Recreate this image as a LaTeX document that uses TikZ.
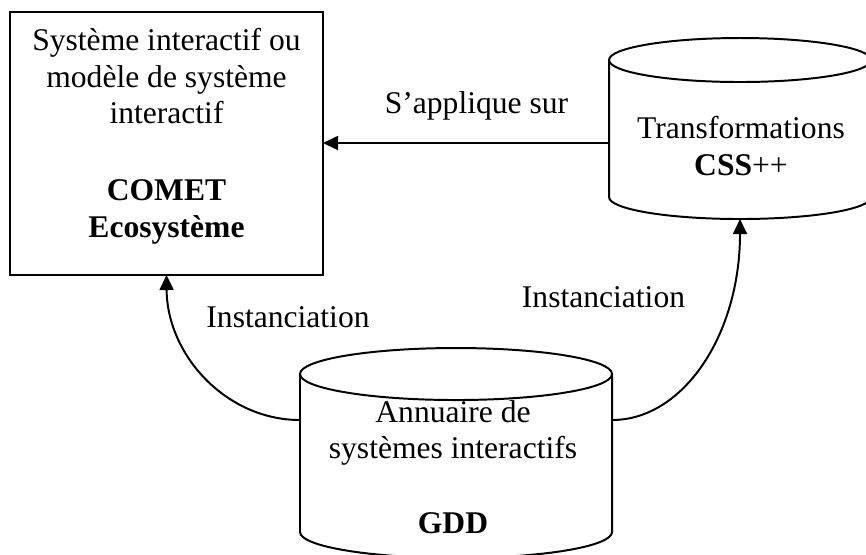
\documentclass[tikz,border=0pt]{standalone}
\usepackage{fontspec}
\setmainfont{Liberation Serif}
\usetikzlibrary{arrows.meta}
\begin{document}
\begin{tikzpicture}[x=0.38pt,y=0.38pt,
  line width=0.75pt,
  txt/.style={anchor=base,inner sep=0pt,font=\fontsize{12}{13.9}\selectfont},
  boxnode/.style={draw,minimum width=118.94pt,minimum height=99.94pt,inner sep=0pt,outer sep=0pt},
  arr/.style={-{Triangle[length=5.7pt,width=5.3pt]}}]
\useasboundingbox (0,0) rectangle (866,-554);
% box
\node[boxnode] (sys) at (166.5,-143.5) {};
\node[txt] (t1) at (166.5,-50) {Système interactif ou};
\node[txt] (t2) at (166.5,-87) {modèle de système};
\node[txt] (t3) at (166.5,-123) {interactif};
\node[txt] (t4) at (166.5,-200) {\textbf{COMET}};
\node[txt] (t5) at (166.5,-237) {\textbf{Ecosystème}};
% right cylinder (Transformations)
\draw (609,-60) -- (609,-197) arc[start angle=180,end angle=360,x radius=131,y radius=22] -- (871,-60);
\draw (740,-60) ellipse [x radius=131,y radius=22];
\coordinate (cssL) at (609,-143);
\coordinate (cssB) at (740,-219);
\node[txt] (t6) at (741,-138) {Transformations};
\node[txt] (t7) at (741,-175) {\textbf{CSS}++};
% bottom cylinder (GDD)
\draw (300,-374) -- (300,-532) arc[start angle=180,end angle=360,x radius=156,y radius=26] -- (612,-374);
\draw (456,-374) ellipse [x radius=156,y radius=26];
\coordinate (gddL) at (300,-420);
\coordinate (gddR) at (612,-420);
\node[txt] (t8) at (453,-422) {Annuaire de};
\node[txt] (t9) at (453,-458) {systèmes interactifs};
\node[txt] (t10) at (453,-533) {\textbf{GDD}};
% connectors
\draw[arr] (cssL) -- (cssL -| sys.east);
\node[txt] (lab1) at (476.5,-113) {S’applique sur};
\draw[arr] (gddL) .. controls (226,-420) and (167,-355) .. (sys.south);
\draw[arr] (gddR) .. controls (683,-420) and (740,-335) .. (cssB);
\node[txt] (lab2) at (288,-327) {Instanciation};
\node[txt] (lab3) at (603.5,-307) {Instanciation};
\end{tikzpicture}
\end{document}
